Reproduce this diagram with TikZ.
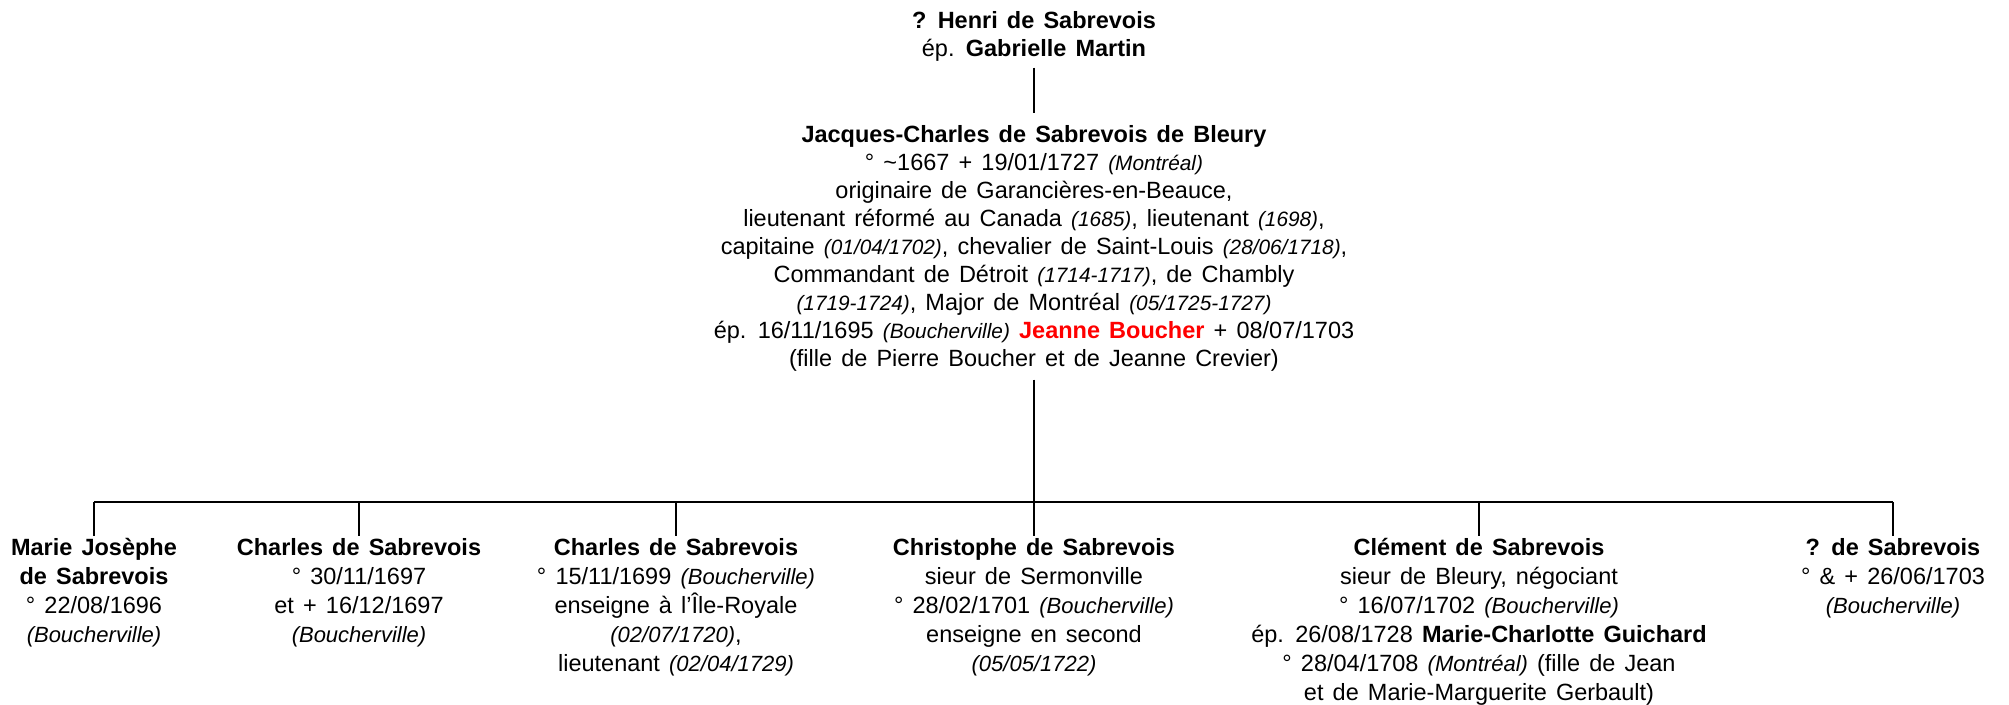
\documentclass[tikz,border=0pt]{standalone}
\usepackage{fontspec}
\setmainfont[WordSpace=1.4]{Liberation Sans}
\newcommand{\lieu}[1]{{\fontsize{10.4}{14}\selectfont\itshape #1}}
\newcommand{\lieuk}[1]{{\fontsize{11}{14.5}\selectfont\itshape #1}}

\begin{document}
\begin{tikzpicture}[x=0.5pt,y=-0.5pt,
  person/.style={align=center,inner sep=0pt,anchor=north,font=\fontsize{11.75}{14}\selectfont},
  kid/.style={person,font=\fontsize{11.75}{14.5}\selectfont},
  link/.style={line width=1.4pt}]
\useasboundingbox (0,0) rectangle (2009,705);
\node[person] (henri) at (1034,11) {\textbf{? Henri de Sabrevois}\\ ép. \textbf{Gabrielle Martin}};
\node[person] (jc) at (1034,125) {\textbf{Jacques-Charles de Sabrevois de Bleury}\\
° \textasciitilde1667 + 19/01/1727 \lieu{(Montréal)}\\
originaire de Garancières-en-Beauce,\\
lieutenant réformé au Canada \lieu{(1685)}, lieutenant \lieu{(1698)},\\
capitaine \lieu{(01/04/1702)}, chevalier de Saint-Louis \lieu{(28/06/1718)},\\
Commandant de Détroit \lieu{(1714-1717)}, de Chambly\\
\lieu{(1719-1724)}, Major de Montréal \lieu{(05/1725-1727)}\\
ép. 16/11/1695 \lieu{(Boucherville)} \textcolor{red}{\textbf{Jeanne Boucher}} + 08/07/1703\\
(fille de Pierre Boucher et de Jeanne Crevier)};
\coordinate (bar) at (1034,502);
\node[kid] (c1) at (94,538) {\textbf{Marie Josèphe}\\ \textbf{de Sabrevois}\\ ° 22/08/1696\\ \lieuk{(Boucherville)}};
\node[kid] (c2) at (359,538) {\textbf{Charles de Sabrevois}\\ ° 30/11/1697\\ et + 16/12/1697\\ \lieuk{(Boucherville)}};
\node[kid] (c3) at (676,538) {\textbf{Charles de Sabrevois}\\ ° 15/11/1699 \lieuk{(Boucherville)}\\ enseigne à l’Île-Royale\\ \lieuk{(02/07/1720)},\\ lieutenant \lieuk{(02/04/1729)}};
\node[kid] (c4) at (1034,538) {\textbf{Christophe de Sabrevois}\\ sieur de Sermonville\\ ° 28/02/1701 \lieuk{(Boucherville)}\\ enseigne en second\\ \lieuk{(05/05/1722)}};
\node[kid] (c5) at (1479,538) {\textbf{Clément de Sabrevois}\\ sieur de Bleury, négociant\\ ° 16/07/1702 \lieuk{(Boucherville)}\\ ép. 26/08/1728 \textbf{Marie-Charlotte Guichard}\\ ° 28/04/1708 \lieuk{(Montréal)} (fille de Jean\\ et de Marie-Marguerite Gerbault)};
\node[kid] (c6) at (1893,538) {\textbf{? de Sabrevois}\\ ° \& + 26/06/1703\\ \lieuk{(Boucherville)}};
\draw[link,shorten <=3pt,shorten >=6pt] (henri) -- (jc);
\draw[link,shorten <=4pt] (jc) -- (bar);
\draw[link] (c1.north |- bar) -- (c6.north |- bar);
\foreach \c in {c1,c2,c3,c4,c5,c6}
  \draw[link,shorten >=1pt] (\c.north |- bar) -- (\c.north);
\end{tikzpicture}
\end{document}
